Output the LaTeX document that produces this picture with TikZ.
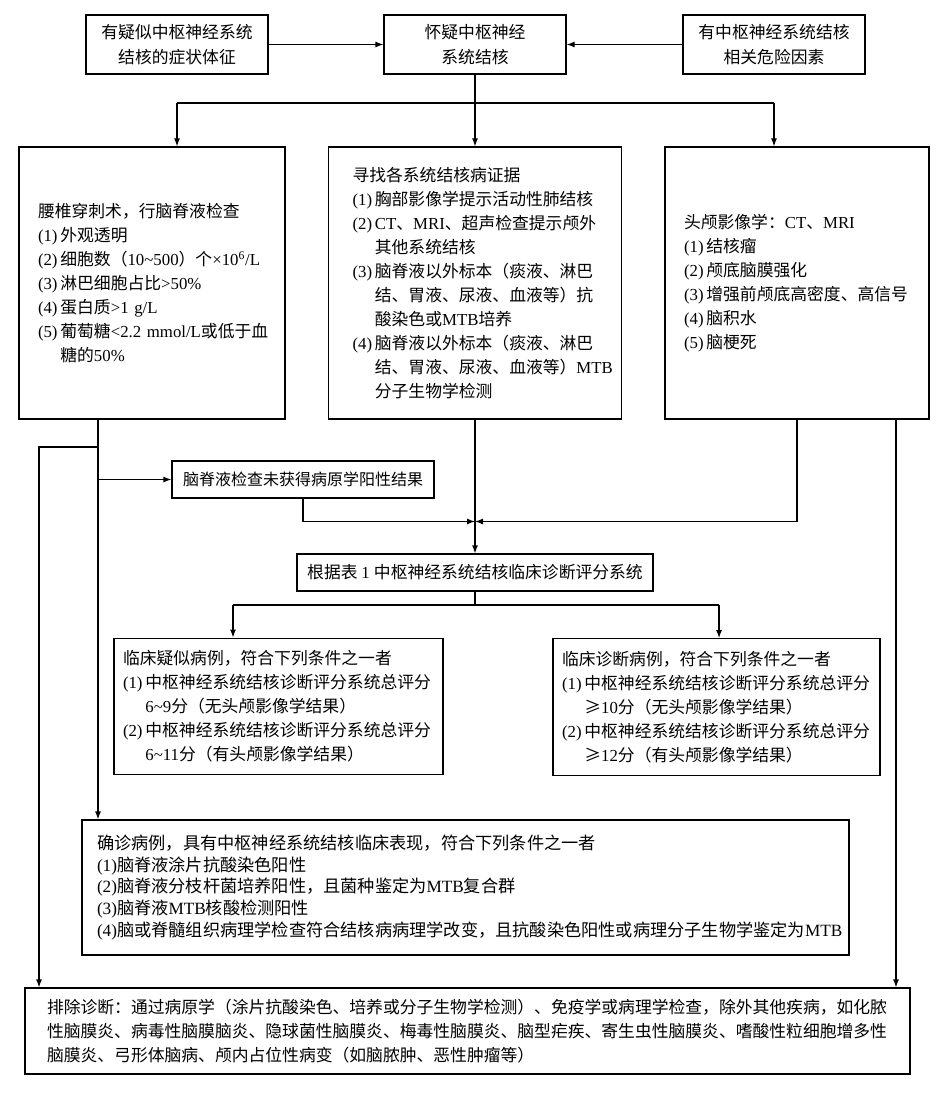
\documentclass[tikz,border=0pt]{standalone}
\usepackage{fontspec}
\setmainfont{Liberation Serif}
\newfontfamily\cjkfont{Noto Sans CJK SC}
\usetikzlibrary{arrows.meta}

% switch between latin and cjk fonts
\XeTeXinterchartokenstate=1
\newXeTeXintercharclass\cjkclass
\newcount\cjkc
\cjkc="3000
\loop \XeTeXcharclass\cjkc=\cjkclass \advance\cjkc by 1 \ifnum\cjkc<"3040 \repeat
\cjkc="4E00
\loop \XeTeXcharclass\cjkc=\cjkclass \advance\cjkc by 1 \ifnum\cjkc<"A000 \repeat
\cjkc="FF00
\loop \XeTeXcharclass\cjkc=\cjkclass \advance\cjkc by 1 \ifnum\cjkc<"FFF0 \repeat
\XeTeXcharclass"2265=\cjkclass
\XeTeXinterchartoks 0 \cjkclass = {\cjkfont}
\XeTeXinterchartoks 4095 \cjkclass = {\cjkfont}
\XeTeXinterchartoks \cjkclass 0 = {\rmfamily}
\XeTeXinterchartoks 4095 0 = {\rmfamily}

\newcommand\ind{\hphantom{(1)\,}}

\tikzset{
  box/.style={draw, line width=0.9pt, inner sep=0pt, font=\fontsize{12.6}{18}\selectfont},
  topbox/.style={box, align=center, minimum width=136.5pt, minimum height=44.25pt,
    font=\fontsize{12.6}{18.75}\selectfont},
  bigbox/.style={box, align=left, minimum height=204pt},
  casebox/.style={box, align=left, inner xsep=6.75pt, minimum height=102.5pt},
  line/.style={line width=0.9pt},
  >={Latex[length=6pt,width=4.5pt]}
}

\begin{document}
\begin{tikzpicture}[x=0.75pt,y=-0.75pt]
  \useasboundingbox (0,0) rectangle (950,1102);
  % Top row
  \node[topbox] (sympt) at (177,44.5) {有疑似中枢神经系统\\结核的症状体征};
  \node[topbox] (suspect) at (475,44.5) {怀疑中枢神经\\系统结核};
  \node[topbox] (risk) at (774,44.5) {有中枢神经系统结核\\相关危险因素};
  % Examinations
  \node[bigbox, text width=171pt, inner xsep=14.25pt] (csf) at (152,283) {
    腰椎穿刺术，行脑脊液检查\\
    (1)\,外观透明\\
    (2)\,细胞数（10\textasciitilde500）个×10\textsuperscript{6}/L\\
    (3)\,淋巴细胞占比>50\%\\
    (4)\,蛋白质>1~g/L\\
    (5)\,葡萄糖<2.2~mmol/L或低于血\\
    \ind 糖的50\%};
  \node[bigbox, text width=183.75pt, inner xsep=18pt] (evid) at (475,283) {
    寻找各系统结核病证据\\
    (1)\,胸部影像学提示活动性肺结核\\
    (2)\,CT、MRI、超声检查提示颅外\\
    \ind 其他系统结核\\
    (3)\,脑脊液以外标本（痰液、淋巴\\
    \ind 结、胃液、尿液、血液等）抗\\
    \ind 酸染色或MTB培养\\
    (4)\,脑脊液以外标本（痰液、淋巴\\
    \ind 结、胃液、尿液、血液等）MTB\\
    \ind 分子生物学检测};
  \node[bigbox, text width=169.5pt, inner xsep=14.25pt] (imag) at (797,283) {
    头颅影像学：CT、MRI\\
    (1)\,结核瘤\\
    (2)\,颅底脑膜强化\\
    (3)\,增强前颅底高密度、高信号\\
    (4)\,脑积水\\
    (5)\,脑梗死};
  % Scoring
  \node[box, inner xsep=3pt, minimum width=196.5pt, minimum height=27.75pt,
    font=\fontsize{12}{14}\selectfont] (nocsf) at (303,479.5) {脑脊液检查未获得病原学阳性结果};
  \node[box, minimum width=267pt, minimum height=27.75pt] (score) at (475,572.5)
    {根据表 1 中枢神经系统结核临床诊断评分系统};
  \node[casebox, text width=233.25pt] (susp) at (278.5,706.5) {
    临床疑似病例，符合下列条件之一者\\
    (1)\,中枢神经系统结核诊断评分系统总评分\\
    \ind 6\textasciitilde9分（无头颅影像学结果）\\
    (2)\,中枢神经系统结核诊断评分系统总评分\\
    \ind 6\textasciitilde11分（有头颅影像学结果）};
  \node[casebox, text width=231.75pt] (diag) at (716.5,707) {
    临床诊断病例，符合下列条件之一者\\
    (1)\,中枢神经系统结核诊断评分系统总评分\\
    \ind ≥10分（无头颅影像学结果）\\
    (2)\,中枢神经系统结核诊断评分系统总评分\\
    \ind ≥12分（有头颅影像学结果）};
  % Confirmed and excluded
  \node[box, align=left, text width=552.75pt, inner xsep=11.25pt, minimum height=101.25pt,
    font=\fontsize{12.9}{16.2}\selectfont] (confirm) at (465.5,887.5) {
    确诊病例，具有中枢神经系统结核临床表现，符合下列条件之一者\\
    (1)脑脊液涂片抗酸染色阳性\\
    (2)脑脊液分枝杆菌培养阳性，且菌种鉴定为MTB复合群\\
    (3)脑脊液MTB核酸检测阳性\\
    (4)脑或脊髓组织病理学检查符合结核病病理学改变，且抗酸染色阳性或病理分子生物学鉴定为MTB};
  \node[box, align=left, text width=630.75pt, inner xsep=16.5pt, minimum height=64.5pt] (excl) at (467.5,1031) {
    排除诊断：通过病原学（涂片抗酸染色、培养或分子生物学检测）、免疫学或病理学检查，除外其他疾病，如化脓\\
    性脑膜炎、病毒性脑膜脑炎、隐球菌性脑膜炎、梅毒性脑膜炎、脑型疟疾、寄生虫性脑膜炎、嗜酸性粒细胞增多性\\
    脑膜炎、弓形体脑病、颅内占位性病变（如脑脓肿、恶性肿瘤等）};
  % Connectors
  \coordinate (barL) at (177,103);
  \coordinate (barR) at (774,103);
  \coordinate (join) at (475,521.5);
  \coordinate (sbL) at (233,605);
  \coordinate (sbR) at (719,605);
  \coordinate (lout) at (98,419);
  \coordinate (lbr) at (98,447);
  \coordinate (lfar) at (39,447);
  \coordinate (rout) at (896,419);
  \draw[line,->] (sympt) -- (suspect);
  \draw[line,->] (risk) -- (suspect);
  \draw[line] (barL) -- (barR);
  \draw[line,->] (suspect) -- (evid);
  \draw[line,->] (barL) -- (barL |- csf.north);
  \draw[line,->] (barR) -- (barR |- imag.north);
  \draw[line,->] (evid) -- (score);
  \draw[line,->] (nocsf.south) |- (join);
  \draw[line,->] (imag.south) |- (join);
  \draw[line] (score.south) -- (score.south |- sbL);
  \draw[line] (sbL) -- (sbR);
  \draw[line,->] (sbL) -- (sbL |- susp.north);
  \draw[line,->] (sbR) -- (sbR |- diag.north);
  \draw[line,->] (lout) -- (lout |- confirm.north);
  \draw[line,->] (lout |- nocsf.west) -- (nocsf.west);
  \draw[line,->] (lbr) -- (lfar) -- (lfar |- excl.north);
  \draw[line,->] (rout) -- (rout |- excl.north);
\end{tikzpicture}
\end{document}
